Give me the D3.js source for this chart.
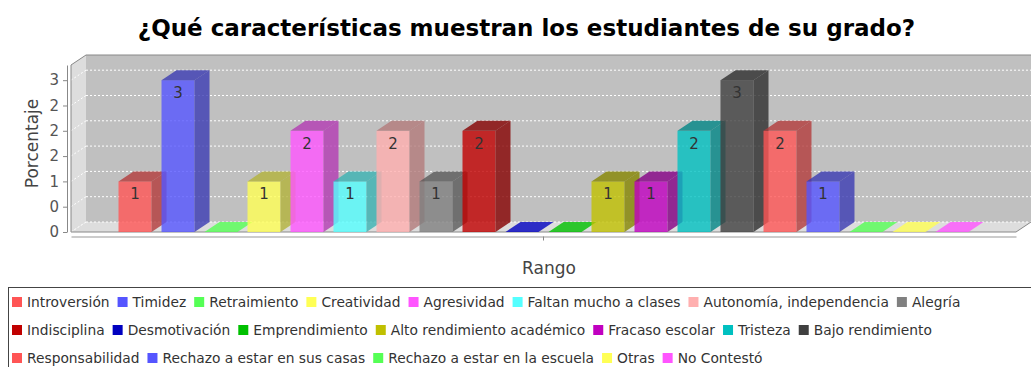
<!DOCTYPE html>
<html>
<head>
<meta charset="utf-8">
<script src="https://cdn.jsdelivr.net/npm/d3@7"></script>
<style>
  html, body { margin: 0; padding: 0; background: #fff; }
  svg { display: block; }
  text { font-family: "DejaVu Sans", sans-serif; }
</style>
</head>
<body>
<svg id="chart" width="1031" height="367"></svg>
<script>
// Survey answers: one category, one bar per characteristic
const seriesNames = [
  "Introversión", "Timidez", "Retraimiento", "Creatividad", "Agresividad",
  "Faltan mucho a clases", "Autonomía, independencia", "Alegría",
  "Indisciplina", "Desmotivación", "Emprendimiento", "Alto rendimiento académico",
  "Fracaso escolar", "Tristeza", "Bajo rendimiento", "Responsabilidad",
  "Rechazo a estar en sus casas", "Rechazo a estar en la escuela", "Otras", "No Contestó"
];
const seriesValues = [1, 3, 0, 1, 2, 1, 2, 1, 2, 0, 0, 1, 1, 2, 3, 2, 1, 0, 0, 0];
const seriesColors = [
  "#ff5555", "#5555ff", "#55ff55", "#ffff55", "#ff55ff", "#55ffff", "#ffafaf", "#808080",
  "#c00000", "#0000c0", "#00c000", "#c0c000", "#c000c0", "#00c0c0", "#404040",
  "#ff5555", "#5555ff", "#55ff55", "#ffff55", "#ff55ff"
];
const categoryNames = [""];
const yTickValues = [0, 0.5, 1, 1.5, 2, 2.5, 3];
const yTickLabels = ["0", "0", "1", "2", "2", "2", "3"];
const yMax = 3.3;

const titleText = "¿Qué características muestran los estudiantes de su grado?";
const yAxisTitle = "Porcentaje";
const xAxisTitle = "Rango";

// Geometry of the 3D plot
const plot = { left: 71, right: 1016, top: 65, bottom: 232 };
const depth = { dx: 15, dy: 10 };
const barAlpha = 0.8;

const svg = d3.select("#chart");

const y = d3.scaleLinear().domain([0, yMax]).range([plot.bottom, plot.top]);
const xCat = d3.scaleBand().domain(categoryNames).range([plot.left, plot.right]);
const xBar = d3.scaleBand().domain(seriesNames)
  .range([plot.left, plot.right])
  .paddingInner(0.2326)
  .paddingOuter(1.105);

const poly = pts => "M" + pts.map(p => p.join(",")).join("L") + "Z";

// Walls: left wall and floor in light gray, back wall in mid gray
const g = svg.append("g");
const bx0 = plot.left + depth.dx, by0 = plot.top - depth.dy;
const bx1 = plot.right + depth.dx, by1 = plot.bottom - depth.dy;

g.append("rect")
  .attr("x", bx0).attr("y", by0)
  .attr("width", bx1 - bx0).attr("height", by1 - by0)
  .attr("fill", "#c0c0c0");
g.append("path")
  .attr("d", poly([[plot.left, plot.top], [bx0, by0], [bx0, by1], [plot.left, plot.bottom]]))
  .attr("fill", "#dddddd");
g.append("path")
  .attr("d", poly([[plot.left, plot.bottom], [bx0, by1], [bx1, by1], [plot.right, plot.bottom]]))
  .attr("fill", "#dddddd");

// Dashed gridlines on the back wall and left wall
yTickValues.forEach(t => {
  const yy = y(t);
  g.append("line")
    .attr("x1", bx0).attr("x2", bx1)
    .attr("y1", yy - depth.dy).attr("y2", yy - depth.dy)
    .attr("stroke", "#ffffff").attr("stroke-width", 1)
    .attr("stroke-dasharray", "2,2");
  g.append("line")
    .attr("x1", plot.left).attr("x2", bx0)
    .attr("y1", yy).attr("y2", yy - depth.dy)
    .attr("stroke", "#ffffff").attr("stroke-width", 1)
    .attr("stroke-dasharray", "2,2");
});

// Wall outlines
const outline = "#888888";
g.append("path")
  .attr("d", "M" + plot.left + "," + plot.bottom + "L" + plot.left + "," + plot.top +
             "L" + bx0 + "," + by0 + "L" + bx1 + "," + by0)
  .attr("fill", "none").attr("stroke", outline).attr("stroke-width", 1);
g.append("path")
  .attr("d", "M" + plot.left + "," + plot.bottom + "L" + plot.right + "," + plot.bottom +
             "L" + bx1 + "," + by1)
  .attr("fill", "none").attr("stroke", outline).attr("stroke-width", 1);

// Bars
const bars = svg.append("g");
const bw = xBar.bandwidth();
seriesNames.forEach((name, i) => {
  const v = seriesValues[i];
  const c = seriesColors[i];
  const dark = d3.color(c).darker(1).formatHex();
  const x0 = xBar(name), x1 = x0 + bw;
  const yTop = y(v), yBase = y(0);
  const gb = bars.append("g");
  if (v > 0) {
    gb.append("rect")
      .attr("x", x0).attr("y", yTop).attr("width", bw).attr("height", yBase - yTop)
      .attr("fill", c).attr("fill-opacity", barAlpha);
    gb.append("path")
      .attr("d", poly([[x1, yTop], [x1 + depth.dx, yTop - depth.dy],
                       [x1 + depth.dx, yBase - depth.dy], [x1, yBase]]))
      .attr("fill", dark).attr("fill-opacity", barAlpha);
    gb.append("path")
      .attr("d", poly([[x0, yTop], [x0 + depth.dx, yTop - depth.dy],
                       [x1 + depth.dx, yTop - depth.dy], [x1, yTop]]))
      .attr("fill", dark).attr("fill-opacity", barAlpha);
  } else {
    gb.append("path")
      .attr("d", poly([[x0, yBase], [x0 + depth.dx, yBase - depth.dy],
                       [x1 + depth.dx, yBase - depth.dy], [x1, yBase]]))
      .attr("fill", c).attr("fill-opacity", barAlpha);
  }
});

// Value labels inside the front faces
seriesNames.forEach((name, i) => {
  const v = seriesValues[i];
  if (v <= 0) return;
  svg.append("text")
    .attr("x", xBar(name) + bw / 2)
    .attr("y", y(v) + 18)
    .attr("text-anchor", "middle")
    .attr("font-size", 15)
    .attr("fill", "#333333")
    .text(String(v));
});

// Value axis
const yAxis = d3.axisLeft(y)
  .tickValues(yTickValues)
  .tickFormat((d, i) => yTickLabels[i])
  .tickSize(4).tickSizeOuter(0).tickPadding(4);
const ya = svg.append("g").attr("transform", "translate(67,0)").call(yAxis);
ya.select(".domain").attr("stroke", "#888888");
ya.selectAll(".tick line").attr("stroke", "#888888");
ya.selectAll(".tick text").attr("font-size", 15).attr("fill", "#555555")
  .attr("font-family", "DejaVu Sans, sans-serif");

// Category axis
const xAxis = d3.axisBottom(xCat).tickSize(4).tickSizeOuter(0).tickFormat(() => "");
const xa = svg.append("g").attr("transform", "translate(0,236.5)").call(xAxis);
xa.select(".domain").attr("stroke", "#999999");
xa.selectAll(".tick line").attr("stroke", "#888888");

// Axis titles
svg.append("text")
  .attr("transform", "translate(38,143.5) rotate(-90)")
  .attr("text-anchor", "middle")
  .attr("font-size", 17).attr("fill", "#444444")
  .text(yAxisTitle);
svg.append("text")
  .attr("x", 549).attr("y", 274)
  .attr("text-anchor", "middle")
  .attr("font-size", 17).attr("fill", "#444444")
  .text(xAxisTitle);

// Title
svg.append("text")
  .attr("x", 526.5).attr("y", 36)
  .attr("text-anchor", "middle")
  .attr("font-size", 23).attr("font-weight", "bold")
  .attr("fill", "#000000")
  .text(titleText);

// Legend: flowing rows of swatch + name
svg.append("rect")
  .attr("x", 8.5).attr("y", 287.5).attr("width", 1100).attr("height", 120)
  .attr("fill", "#ffffff").attr("stroke", "#444444").attr("stroke-width", 1);

const legend = svg.append("g");
const legendStartX = 12, legendLimit = 1045, rowY0 = 302, rowStep = 28;
let lx = legendStartX, row = 0;
seriesNames.forEach((name, i) => {
  const t = legend.append("text")
    .attr("font-size", 13.8).attr("fill", "#333333")
    .text(name);
  const w = t.node().getComputedTextLength();
  if (lx + 15 + w > legendLimit) { row += 1; lx = legendStartX; }
  const cy = rowY0 + row * rowStep;
  legend.append("rect")
    .attr("x", lx).attr("y", cy - 5).attr("width", 10).attr("height", 10)
    .attr("fill", seriesColors[i]);
  t.attr("x", lx + 15).attr("y", cy + 5);
  lx += 15 + w + 8;
});
</script>
</body>
</html>
